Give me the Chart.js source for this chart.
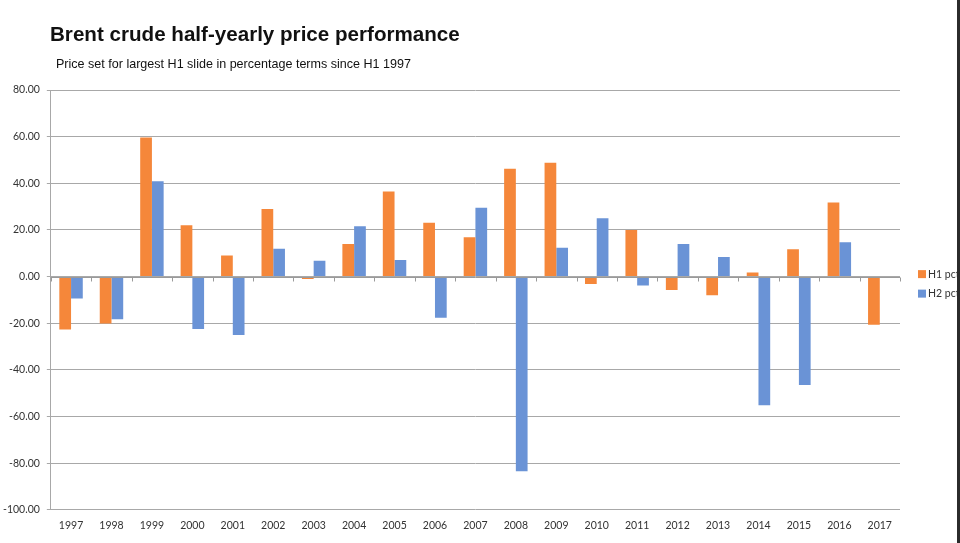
<!DOCTYPE html>
<html>
<head>
<meta charset="utf-8">
<script src="https://cdn.jsdelivr.net/npm/chart.js@4/dist/chart.umd.min.js"></script>
<style>
  html, body { margin: 0; padding: 0; background: #fff; }
  #wrap { position: relative; width: 960px; height: 543px; overflow: hidden; background: #fff; }
  #c { position: absolute; left: 0; top: 0; }
  #title { position: absolute; left: 50px; top: 22px; font: bold 20.6px "Liberation Sans", Arial, sans-serif; color: #111; white-space: nowrap; }
  #sub { position: absolute; left: 56px; top: 57px; font: 12.55px "Liberation Sans", Arial, sans-serif; color: #111; white-space: nowrap; }
  #edge { position: absolute; left: 957px; top: 0; width: 3px; height: 543px; background: #2b2b2b; }
</style>
</head>
<body>
<div id="wrap">
  <canvas id="c" width="960" height="543"></canvas>
  <div id="title">Brent crude half-yearly price performance</div>
  <div id="sub">Price set for largest H1 slide  in percentage terms since H1 1997</div>
  <div id="edge"></div>
</div>
<script>
const years = ['1997','1998','1999','2000','2001','2002','2003','2004','2005','2006','2007','2008','2009','2010','2011','2012','2013','2014','2015','2016','2017'];
const h1Pct = [-22.7, -20.1, 59.6, 22.0, 9.1, 29.0, -1.0, 14.0, 36.5, 23.1, 16.9, 46.2, 48.8, -3.2, 20.0, -5.7, -8.0, 1.8, 11.7, 31.8, -20.6];
const h2Pct = [-9.4, -18.3, 40.9, -22.4, -25.0, 12.0, 6.8, 21.6, 7.1, -17.6, 29.5, -83.4, 12.4, 25.0, -3.8, 14.0, 8.4, -55.1, -46.5, 14.7, null];
const yTicks = { min: -100, max: 80, step: 20 };
const FONT = 'Lato, "Liberation Sans", sans-serif';

const zeroTicks = {
  id: 'zeroTicks',
  afterDatasetsDraw(chart) {
    const x = chart.scales.x, y = chart.scales.y, ctx = chart.ctx;
    const y0 = Math.round(y.getPixelForValue(0)) + 0.5;
    ctx.save();
    ctx.strokeStyle = '#9a9a9a';
    ctx.lineWidth = 1;
    ctx.beginPath();
    ctx.moveTo(x.left, y0); ctx.lineTo(x.right, y0);
    for (let i = 0; i <= years.length; i++) {
      const px = Math.round(x.left + (x.right - x.left) * i / years.length) + 0.5;
      ctx.moveTo(px, y0); ctx.lineTo(px, y0 + 4);
    }
    ctx.stroke();
    ctx.restore();
  }
};

const sideLegend = {
  id: 'sideLegend',
  afterDraw(chart) {
    const ctx = chart.ctx, area = chart.chartArea, y = chart.scales.y;
    const y0 = y.getPixelForValue(0);
    ctx.save();
    ctx.font = '10.5px ' + FONT;
    ctx.textBaseline = 'middle';
    chart.data.datasets.forEach((ds, i) => {
      const cy = y0 - 2.5 + i * 19.5;
      const bx = area.right + 18;
      ctx.fillStyle = ds.backgroundColor;
      ctx.fillRect(bx, cy - 4, 8, 8);
      ctx.fillStyle = '#333';
      ctx.fillText(ds.label, bx + 10, cy);
    });
    ctx.restore();
  }
};

new Chart(document.getElementById('c'), {
  type: 'bar',
  data: {
    labels: years,
    datasets: [
      { label: 'H1 pct', data: h1Pct, backgroundColor: '#F5873A', borderWidth: 0 },
      { label: 'H2 pct', data: h2Pct, backgroundColor: '#6A93D6', borderWidth: 0 }
    ]
  },
  options: {
    responsive: false,
    animation: false,
    layout: { padding: { top: 90, left: -4, right: 60, bottom: 9.5 } },
    datasets: { bar: { categoryPercentage: 0.58, barPercentage: 1.0 } },
    plugins: {
      title: { display: false },
      tooltip: { enabled: false },
      legend: { display: false }
    },
    scales: {
      x: {
        grid: { display: false },
        border: { display: false },
        ticks: { color: '#333', font: { family: FONT, size: 10.5 }, maxRotation: 0, padding: 1.5 }
      },
      y: {
        min: yTicks.min, max: yTicks.max,
        grid: { color: '#a8a8a8', tickLength: 4 },
        border: { display: true, color: '#a8a8a8' },
        ticks: {
          stepSize: yTicks.step,
          color: '#333',
          font: { family: FONT, size: 10.5 },
          padding: 7,
          callback: v => Number(v).toFixed(2)
        }
      }
    }
  },
  plugins: [zeroTicks, sideLegend]
});
</script>
</body>
</html>
